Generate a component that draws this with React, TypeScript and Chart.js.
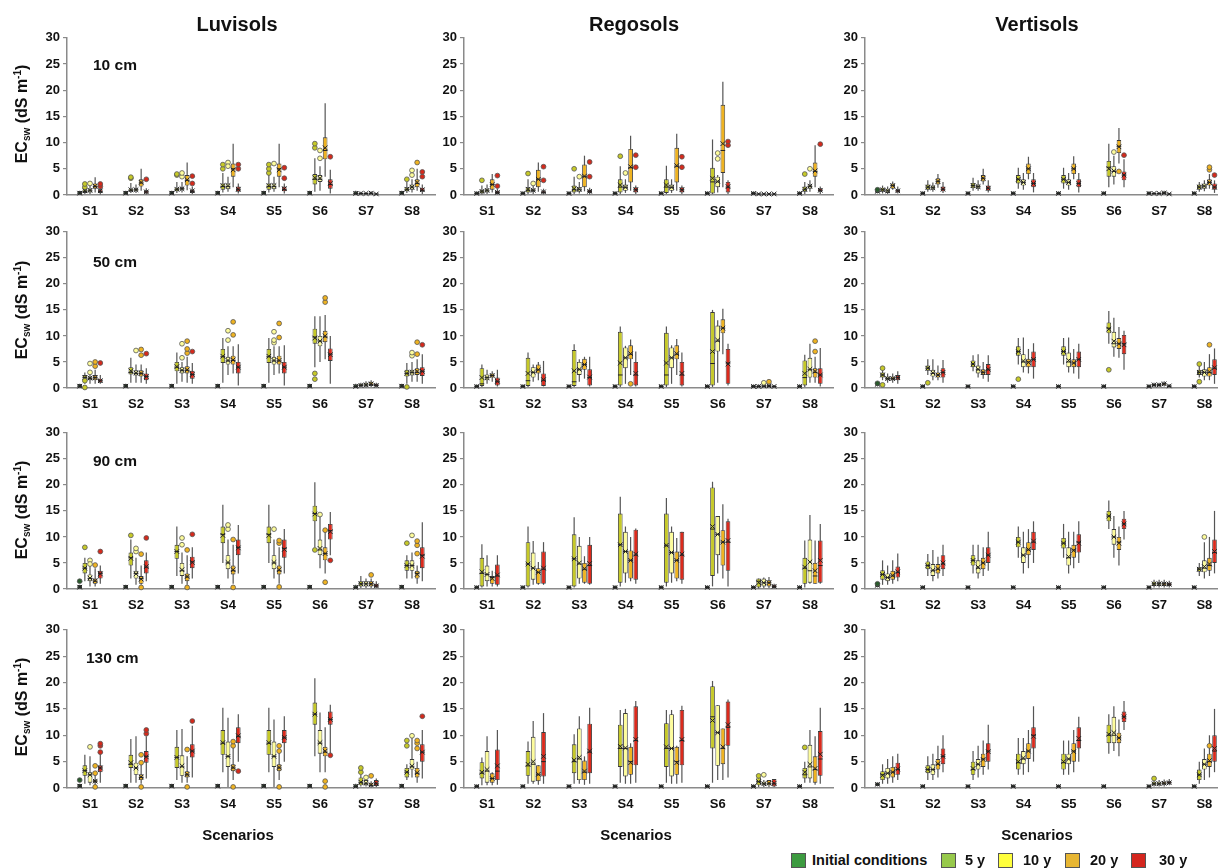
import React, { useEffect, useRef } from "react";
import { Chart, registerables } from "chart.js";
Chart.register(...registerables);

// ---------- labels ----------
const SCENARIOS = ["S1", "S2", "S3", "S4", "S5", "S6", "S7", "S8"];
const SERIES_NAMES = ["Initial conditions", "5 y", "10 y", "20 y", "30 y"];
const SOILS = ["Luvisols", "Regosols", "Vertisols"];
const DEPTHS = ["10 cm", "50 cm", "90 cm", "130 cm"];
const Y_TICKS = [0, 5, 10, 15, 20, 25, 30];

// box = [min, q1, median, q3, max, mean]; outlier = [seriesIndex, scenarioIndex, value]
// ---------- initial conditions (per soil) ----------
const LUV_INIT = [[0.05,0.05,0.35,0.75,0.8,0.35],[0.05,0.05,0.35,0.75,0.8,0.35],[0.05,0.05,0.35,0.75,0.8,0.35],[0.05,0.05,0.35,0.75,0.8,0.35],[0.05,0.05,0.35,0.75,0.8,0.35],[0.05,0.05,0.35,0.75,0.8,0.35],[0.05,0.05,0.3,0.7,0.8,0.3],[0.05,0.05,0.35,0.75,0.8,0.35]];
const REG_INIT = [[0.05,0.05,0.3,0.6,0.7,0.3],[0.05,0.05,0.3,0.6,0.7,0.3],[0.05,0.05,0.3,0.6,0.7,0.3],[0.05,0.05,0.3,0.6,0.7,0.3],[0.05,0.05,0.3,0.6,0.7,0.3],[0.05,0.05,0.3,0.6,0.7,0.3],[0.05,0.05,0.3,0.6,0.7,0.3],[0.05,0.05,0.3,0.6,0.7,0.3]];
const VER_INIT = [[0.3,0.4,0.7,1.0,1.1,0.7],[0.05,0.05,0.3,0.6,0.7,0.3],[0.05,0.05,0.3,0.6,0.7,0.3],[0.05,0.05,0.3,0.6,0.7,0.3],[0.05,0.05,0.3,0.6,0.7,0.3],[0.05,0.05,0.3,0.6,0.7,0.3],[0.05,0.05,0.3,0.6,0.7,0.3],[0.05,0.05,0.3,0.6,0.7,0.3]];

// ---------- Luvisols 10 cm ----------
const LUV10_Y5 = [[0.2,0.4,0.7,1.1,1.8,0.8],[0.4,0.6,0.9,1.2,2.3,1.0],[0.4,0.7,1.0,1.4,2.5,1.1],[0.5,1.0,1.6,2.2,4.2,1.8],[0.5,1.0,1.6,2.2,4.2,1.8],[0.6,2.0,3.0,4.0,7.0,3.3],[0.1,0.2,0.3,0.4,0.6,0.3],[0.4,0.7,1.0,1.5,2.5,1.1]];
const LUV10_Y10 = [[0.2,0.5,0.8,1.2,2.0,0.9],[0.4,0.7,1.0,1.3,2.0,1.0],[0.5,0.9,1.2,1.5,2.5,1.2],[0.6,1.1,1.6,2.2,3.5,1.8],[0.6,1.1,1.6,2.2,3.5,1.8],[0.8,2.5,3.0,3.8,5.5,3.2],[0.1,0.2,0.3,0.4,0.5,0.3],[0.5,1.0,1.5,2.0,3.0,1.5]];
const LUV10_Y20 = [[0.5,1.2,1.6,2.2,3.4,1.7],[0.8,1.6,2.3,3.0,5.0,2.4],[0.9,1.8,2.8,3.8,6.2,2.9],[1.5,3.5,5.0,6.0,9.8,4.8],[1.5,3.5,5.0,6.0,9.8,4.8],[3.5,6.8,8.5,11.0,17.5,9.0],[0.1,0.2,0.35,0.5,0.7,0.35],[0.8,1.5,2.2,3.0,5.0,2.4]];
const LUV10_Y30 = [[0.1,0.4,0.7,1.1,1.5,0.8],[0.1,0.3,0.6,0.9,1.3,0.6],[0.2,0.4,0.7,1.0,1.6,0.8],[0.3,0.6,1.0,1.6,2.2,1.1],[0.3,0.7,1.0,1.6,2.2,1.2],[0.3,1.2,2.0,3.0,4.8,2.2],[0.1,0.15,0.2,0.3,0.4,0.2],[0.2,0.6,0.9,1.4,2.0,1.0]];
const LUV10_OUT = [[1,0,1.5],[1,0,2.1],[2,0,2.2],[4,0,1.6],[4,0,2.1],[1,1,3.2],[1,1,3.4],[4,1,3.0],[1,2,3.8],[1,2,4.0],[2,2,3.5],[2,2,4.2],[4,2,2.2],[4,2,3.6],[1,3,5.0],[1,3,5.8],[2,3,6.2],[2,3,5.5],[4,3,5.0],[4,3,5.8],[1,4,4.2],[1,4,5.0],[1,4,5.8],[2,4,6.0],[4,4,3.2],[4,4,5.2],[1,5,9.0],[1,5,9.8],[2,5,8.5],[2,5,7.0],[4,5,7.3],[1,7,3.0],[2,7,3.8],[2,7,4.7],[3,7,6.2],[4,7,3.5],[4,7,4.4]];

// ---------- Regosols 10 cm ----------
const REG10_Y5 = [[0.1,0.3,0.6,1.0,1.8,0.7],[0.2,0.5,0.9,1.5,3.0,1.1],[0.2,0.5,1.0,1.8,3.5,1.2],[0.2,0.5,1.5,3.0,5.5,1.9],[0.2,0.4,1.5,3.0,5.6,1.9],[0.2,0.3,2.5,5.2,10.6,3.2],[0.1,0.15,0.2,0.3,0.4,0.2],[0.2,0.6,1.0,1.6,2.5,1.1]];
const REG10_Y10 = [[0.2,0.5,0.8,1.2,2.0,0.9],[0.2,0.6,0.9,1.2,2.0,0.9],[0.3,0.6,1.0,1.5,2.5,1.1],[0.4,0.8,1.4,2.0,3.0,1.5],[0.4,0.8,1.4,2.0,3.0,1.5],[0.5,1.5,2.5,3.5,3.8,2.6],[0.1,0.15,0.2,0.3,0.4,0.2],[0.6,1.2,1.6,2.0,2.8,1.7]];
const REG10_Y20 = [[0.5,1.0,2.0,3.0,4.0,2.0],[0.6,1.5,3.0,4.8,6.2,3.0],[0.7,1.5,3.5,5.8,7.5,3.6],[0.8,2.4,5.2,8.8,11.3,5.4],[0.8,2.4,5.5,9.0,11.7,5.6],[1.5,4.2,8.5,17.2,21.6,9.8],[0.1,0.15,0.2,0.3,0.4,0.2],[1.5,3.5,4.5,6.2,9.5,4.6]];
const REG10_Y30 = [[0.1,0.2,0.5,0.8,1.2,0.5],[0.1,0.3,0.5,0.8,1.2,0.6],[0.1,0.4,0.7,1.0,1.4,0.7],[0.2,0.5,1.0,1.5,1.8,1.0],[0.2,0.5,1.0,1.5,1.8,1.0],[0.2,0.5,1.5,2.5,2.8,1.6],[0.1,0.15,0.2,0.3,0.4,0.2],[0.2,0.6,0.9,1.3,1.6,0.9]];
const REG10_OUT = [[1,0,2.8],[4,0,1.7],[4,0,3.7],[1,1,4.1],[2,1,2.2],[4,1,2.8],[4,1,5.4],[1,2,5.0],[2,2,3.5],[4,2,3.5],[4,2,6.3],[1,3,7.4],[2,3,4.2],[4,3,5.3],[4,3,7.6],[4,4,5.3],[4,4,7.3],[2,5,6.9],[2,5,8.0],[4,5,9.5],[4,5,10.2],[1,7,4.0],[2,7,5.0],[4,7,9.7]];

// ---------- Vertisols 10 cm ----------
const VER10_Y5 = [[0.3,0.6,1.0,1.4,1.8,1.0],[0.6,1.0,1.5,2.0,2.8,1.5],[0.8,1.3,1.8,2.3,3.3,1.8],[1.2,2.2,3.0,3.8,5.2,3.0],[1.2,2.2,3.0,3.8,5.2,3.0],[1.5,3.5,5.3,6.5,9.8,5.0],[0.1,0.2,0.3,0.4,0.5,0.3],[0.6,1.0,1.5,2.0,2.5,1.5]];
const VER10_Y10 = [[0.2,0.4,0.8,1.2,1.6,0.8],[0.6,1.0,1.4,1.8,2.4,1.4],[0.8,1.2,1.6,2.0,2.8,1.6],[1.0,1.8,2.4,3.0,4.2,2.4],[1.0,1.8,2.4,3.0,4.2,2.4],[2.0,3.5,4.5,5.5,7.5,4.6],[0.1,0.2,0.3,0.4,0.5,0.3],[0.7,1.2,1.7,2.2,2.8,1.7]];
const VER10_Y20 = [[1.0,1.2,1.8,2.2,2.6,1.8],[1.4,2.0,2.6,3.2,4.0,2.6],[2.0,2.6,3.2,3.8,5.0,3.2],[3.0,4.0,5.0,6.0,7.3,5.0],[3.0,4.0,5.0,6.0,7.4,5.0],[6.0,8.0,9.3,10.5,12.8,9.2],[0.1,0.2,0.4,0.6,0.8,0.4],[1.2,1.8,2.4,3.0,4.0,2.4]];
const VER10_Y30 = [[0.3,0.5,0.8,1.1,1.6,0.8],[0.4,0.7,1.1,1.6,2.5,1.1],[0.5,0.8,1.3,1.8,2.8,1.3],[0.5,1.5,2.2,3.0,4.2,2.2],[0.5,1.5,2.2,3.0,4.2,2.2],[1.5,2.8,3.8,4.5,6.8,3.8],[0.1,0.15,0.2,0.3,0.4,0.2],[0.4,1.0,1.5,2.2,2.8,1.5]];
const VER10_OUT = [[0,0,1.0],[2,5,8.2],[3,5,4.5],[4,5,7.6],[3,7,4.8],[3,7,5.3],[4,7,3.8]];

// ---------- Luvisols 50 cm ----------
const LUV50_Y5 = [[0.8,1.5,2.0,2.5,3.0,2.0],[1.0,2.6,3.0,4.0,5.8,3.3],[0.8,3.2,4.0,5.0,6.8,4.1],[1.0,4.8,6.0,7.5,9.6,6.1],[1.0,4.8,6.0,7.5,9.6,6.1],[4.0,8.5,9.8,11.4,13.8,9.6],[0.1,0.3,0.5,0.8,1.0,0.5],[0.8,2.2,2.8,3.5,4.8,2.8]];
const LUV50_Y10 = [[0.8,1.5,1.8,2.2,3.0,1.9],[1.0,2.4,2.8,3.4,4.5,2.9],[1.2,2.8,3.4,4.0,5.0,3.4],[2.5,4.5,5.2,6.0,8.0,5.3],[2.5,4.5,5.2,6.0,8.0,5.3],[5.0,8.0,9.0,10.0,13.8,9.0],[0.1,0.3,0.6,1.0,1.3,0.6],[1.2,2.4,3.0,3.5,5.0,3.0]];
const LUV50_Y20 = [[0.8,1.5,2.0,2.5,3.5,2.0],[1.0,2.2,2.8,3.4,4.5,2.8],[1.0,2.8,3.4,4.2,6.0,3.5],[2.8,4.5,5.3,6.2,8.0,5.4],[2.8,4.5,5.2,6.2,8.0,5.3],[5.5,8.8,9.8,11.0,14.0,10.0],[0.2,0.4,0.7,1.2,1.5,0.8],[1.2,2.5,3.0,3.8,5.5,3.2]];
const LUV50_Y30 = [[0.8,1.0,1.4,1.8,2.5,1.4],[0.8,1.5,2.2,2.8,3.8,2.2],[0.8,1.8,2.6,3.3,4.8,2.6],[0.5,2.8,4.0,5.0,8.4,4.0],[0.5,2.8,4.0,5.0,8.2,4.0],[0.8,5.2,6.5,7.6,10.0,6.4],[0.1,0.3,0.5,0.8,1.0,0.5],[0.8,2.3,3.2,4.0,6.5,3.2]];
const LUV50_OUT = [[1,0,1.4],[1,0,0.1],[2,0,3.0],[2,0,4.7],[3,0,4.2],[3,0,5.0],[4,0,4.8],[2,1,7.2],[3,1,6.3],[3,1,7.4],[4,1,6.6],[2,2,5.8],[2,2,8.5],[3,2,6.7],[3,2,7.5],[3,2,9.0],[4,2,7.0],[2,3,9.2],[2,3,11.0],[3,3,10.2],[3,3,12.7],[2,4,8.7],[2,4,9.2],[2,4,10.8],[3,4,9.7],[3,4,12.4],[1,5,1.7],[1,5,2.8],[3,5,16.5],[3,5,17.3],[1,7,0.2],[2,7,6.2],[2,7,6.8],[3,7,6.5],[3,7,8.8],[4,7,8.3]];

// ---------- Regosols 50 cm ----------
const REG50_Y5 = [[0.2,0.4,0.8,3.8,4.5,2.0],[0.2,0.4,1.4,5.8,6.8,2.8],[0.2,0.4,1.2,7.3,8.4,3.3],[0.2,0.5,2.5,10.8,11.8,4.8],[0.2,0.5,2.5,10.6,11.8,4.8],[0.2,0.5,4.7,14.6,15.0,7.0],[0.1,0.2,0.3,0.5,0.7,0.3],[0.2,0.5,2.0,5.3,6.4,2.8]];
const REG50_Y10 = [[0.8,1.5,2.0,2.6,3.5,2.0],[1.2,2.0,3.0,4.0,4.5,3.0],[1.2,2.5,3.5,5.0,5.5,3.6],[0.8,3.8,5.8,7.8,8.1,5.8],[0.8,3.8,5.8,7.8,8.2,5.8],[1.0,7.0,9.0,12.0,13.0,9.2],[0.1,0.2,0.4,0.6,0.8,0.4],[1.0,2.0,3.5,5.8,8.5,3.6]];
const REG50_Y20 = [[1.2,2.0,2.4,2.8,3.2,2.4],[1.5,2.8,3.5,4.5,5.0,3.5],[1.8,3.5,4.5,5.6,6.0,4.5],[2.5,5.5,6.5,8.2,9.3,6.6],[2.5,5.5,6.5,8.2,9.4,6.6],[6.5,10.5,11.5,13.2,15.2,11.5],[0.1,0.2,0.4,0.6,0.8,0.4],[1.0,2.0,3.0,3.8,6.0,3.2]];
const REG50_Y30 = [[0.3,0.5,1.2,2.0,3.5,1.3],[0.3,0.4,1.5,2.8,5.2,1.6],[0.3,0.5,2.0,3.6,6.0,2.1],[0.3,0.5,2.5,5.0,7.0,2.8],[0.3,0.5,2.5,5.0,6.8,2.8],[0.5,0.8,4.8,7.5,8.5,4.6],[0.1,0.2,0.3,0.5,0.6,0.3],[0.3,0.8,2.5,3.8,7.7,2.5]];
const REG50_OUT = [[3,3,0.8],[2,6,1.0],[3,6,1.2],[3,7,7.0],[3,7,9.0]];

// ---------- Vertisols 50 cm ----------
const VER50_Y5 = [[1.5,2.0,2.5,3.0,3.5,2.5],[2.5,3.3,3.8,4.3,5.5,3.8],[3.2,4.0,4.6,5.3,6.3,4.6],[4.5,6.2,7.0,8.0,9.6,7.0],[4.5,6.2,7.0,8.0,9.6,7.0],[8.5,10.5,11.5,12.6,14.8,11.3],[0.2,0.4,0.6,0.8,1.0,0.6],[2.0,2.5,3.0,3.5,4.5,3.0]];
const VER50_Y10 = [[1.0,1.5,1.8,2.2,2.8,1.8],[1.5,2.2,2.8,3.5,5.5,2.9],[2.0,2.8,3.5,4.3,6.5,3.6],[3.0,4.0,5.0,6.5,9.7,5.2],[3.0,4.0,5.0,6.8,9.7,5.3],[6.0,7.8,8.5,10.8,13.5,9.0],[0.2,0.4,0.6,0.8,1.0,0.6],[1.5,2.2,3.0,3.6,5.0,3.0]];
const VER50_Y20 = [[1.0,1.5,1.8,2.2,2.8,1.8],[1.5,2.0,2.5,3.0,4.3,2.5],[1.8,2.5,3.0,3.6,5.0,3.0],[2.8,4.0,5.0,5.6,7.5,4.9],[2.8,4.0,4.8,5.5,7.5,4.8],[5.8,7.5,8.5,9.6,11.7,8.5],[0.3,0.5,0.8,1.0,1.3,0.8],[1.5,2.2,3.0,4.0,6.5,3.1]];
const VER50_Y30 = [[0.8,1.5,2.0,2.5,3.2,2.0],[1.0,2.0,3.0,3.8,5.4,3.0],[1.2,2.5,3.5,4.6,6.3,3.6],[1.8,4.0,5.5,7.0,8.6,5.5],[1.8,4.0,5.5,7.0,8.5,5.5],[3.5,6.5,8.5,10.2,11.0,8.3],[0.1,0.2,0.4,0.5,0.7,0.4],[0.8,2.5,3.8,5.5,7.6,3.9]];
const VER50_OUT = [[1,0,3.8],[1,0,0.6],[0,0,0.9],[1,1,1.0],[1,3,1.7],[1,5,3.5],[1,7,4.6],[1,7,1.2],[3,7,8.3]];

// ---------- Luvisols 90 cm ----------
const LUV90_Y5 = [[1.5,3.0,4.0,5.0,6.0,4.0],[2.0,4.5,6.0,7.0,9.5,5.9],[2.5,5.8,7.2,8.5,12.0,7.2],[5.0,8.8,10.5,12.0,16.2,10.3],[5.0,8.8,10.5,12.0,16.2,10.3],[8.0,13.0,14.5,16.0,20.5,14.4],[0.2,0.5,1.0,1.5,2.5,1.0],[2.0,3.5,4.5,5.5,6.5,4.5]];
const LUV90_Y10 = [[0.5,1.5,2.0,2.8,4.5,2.1],[0.8,2.0,3.0,3.5,6.0,2.9],[1.0,2.5,3.5,5.0,7.0,3.7],[2.0,3.8,5.0,6.5,9.5,5.1],[2.0,3.8,5.0,6.5,9.5,5.1],[4.0,6.5,7.5,9.5,14.0,7.8],[0.2,0.5,1.0,1.5,2.0,1.0],[2.0,3.5,4.5,5.5,7.0,4.5]];
const LUV90_Y20 = [[0.5,1.0,1.5,2.0,4.0,1.6],[0.8,1.0,2.0,2.5,4.5,1.9],[0.8,1.5,2.3,3.0,6.5,2.4],[1.0,2.8,3.5,4.5,8.5,3.7],[1.0,2.8,3.5,4.5,8.0,3.7],[3.0,5.5,6.8,8.0,11.5,6.8],[0.2,0.5,1.0,1.5,2.0,1.0],[1.0,2.0,3.0,3.5,4.5,2.8]];
const LUV90_Y30 = [[1.0,2.0,3.0,3.5,4.5,2.9],[1.5,3.0,4.2,5.5,7.0,4.3],[2.0,4.0,5.2,6.2,8.0,5.1],[3.0,6.5,8.0,9.5,12.3,7.9],[3.0,6.0,7.8,9.5,11.5,7.6],[6.5,9.5,11.2,12.5,14.8,11.0],[0.2,0.3,0.6,1.0,1.5,0.6],[1.5,4.0,6.5,8.0,12.8,6.3]];
const LUV90_OUT = [[0,0,1.5],[1,0,8.0],[2,0,5.5],[2,0,4.8],[3,0,4.6],[4,0,7.2],[1,1,10.3],[2,1,7.2],[2,1,7.8],[3,1,0.3],[3,1,6.7],[4,1,9.8],[2,2,8.5],[2,2,9.8],[3,2,0.3],[3,2,7.5],[4,2,10.5],[2,3,11.5],[2,3,12.3],[3,3,0.3],[3,3,9.5],[2,4,11.5],[3,4,0.4],[3,4,8.8],[3,4,9.3],[1,5,7.5],[2,5,14.3],[3,5,1.3],[3,5,11.3],[4,5,5.5],[3,6,2.7],[1,7,8.8],[2,7,10.3],[3,7,6.8],[3,7,8.4],[3,7,9.2]];

// ---------- Regosols 90 cm ----------
const REG90_Y5 = [[0.3,0.5,3.0,6.0,8.6,3.3],[0.3,0.5,4.8,9.0,12.0,4.8],[0.3,0.5,5.8,10.5,13.8,5.8],[0.5,1.2,8.5,14.5,17.7,8.5],[0.5,1.2,8.3,14.5,17.5,8.4],[0.5,2.5,11.5,19.5,20.6,12.0],[0.1,0.3,1.5,2.0,2.0,1.2],[0.3,1.0,4.0,6.0,9.3,4.2]];
const REG90_Y10 = [[0.5,1.5,2.8,4.5,6.5,2.8],[0.8,1.8,4.0,7.0,9.2,4.0],[1.0,2.0,4.8,8.3,10.0,5.0],[1.2,3.0,7.2,11.0,12.0,7.2],[1.2,3.0,7.0,11.0,12.0,7.0],[3.0,6.5,10.5,14.0,14.0,10.5],[0.2,0.5,1.2,2.0,2.2,1.2],[1.0,1.2,3.5,9.5,14.2,5.2]];
const REG90_Y20 = [[0.5,1.0,2.2,2.5,3.5,2.0],[0.8,1.0,3.2,4.0,5.2,3.2],[1.0,1.2,3.8,5.0,6.3,3.9],[1.5,2.0,5.5,7.4,10.0,5.5],[1.5,2.0,5.5,7.2,9.8,5.5],[2.0,4.5,9.0,11.3,16.3,9.0],[0.2,0.5,1.2,1.7,2.3,1.2],[1.0,1.0,2.5,5.0,9.3,3.5]];
const REG90_Y30 = [[0.5,0.8,2.5,4.7,6.5,2.7],[0.8,1.0,3.8,7.2,9.0,4.0],[0.8,1.0,4.5,8.5,10.0,4.9],[1.0,1.8,6.5,11.4,11.6,6.7],[1.0,1.8,6.5,11.0,11.0,6.7],[0.5,3.5,9.0,13.0,13.5,9.3],[0.1,0.2,0.5,0.8,1.0,0.5],[1.0,1.2,4.5,9.3,12.5,5.5]];
const REG90_OUT: number[][] = [];

// ---------- Vertisols 90 cm ----------
const VER90_Y5 = [[0.8,1.8,2.8,3.6,5.5,2.8],[2.5,3.8,4.5,5.3,6.7,4.5],[3.0,4.5,5.5,6.5,8.5,5.5],[6.0,8.0,9.0,10.0,12.0,9.0],[6.0,7.8,8.8,9.8,12.5,8.8],[11.5,13.0,14.0,15.0,17.0,14.0],[0.3,0.6,1.0,1.4,1.8,1.0],[2.5,3.3,3.8,4.2,5.0,3.8]];
const VER90_Y10 = [[0.8,1.5,2.2,3.0,4.5,2.2],[1.5,2.5,3.5,4.8,7.5,3.6],[2.0,3.0,4.0,5.5,8.5,4.2],[3.0,5.0,6.5,8.0,11.0,6.5],[3.0,4.5,6.0,8.0,11.0,6.2],[6.0,8.5,10.0,11.5,14.0,10.0],[0.3,0.6,1.0,1.3,1.8,1.0],[2.0,3.2,4.0,5.5,9.0,4.3]];
const VER90_Y20 = [[1.0,1.8,2.5,3.5,5.5,2.6],[2.0,3.0,3.8,4.8,6.2,3.9],[2.5,3.8,5.0,6.0,8.0,5.0],[4.0,6.5,7.5,9.0,11.5,7.6],[4.0,6.0,7.5,8.5,11.0,7.4],[4.5,7.5,9.0,10.0,12.0,8.8],[0.3,0.6,1.0,1.3,1.8,1.0],[2.5,3.5,4.5,6.0,10.0,4.8]];
const VER90_Y30 = [[1.5,2.2,3.2,4.3,6.8,3.3],[2.5,3.8,4.8,6.5,8.5,5.0],[3.5,5.0,6.5,8.0,11.0,6.5],[5.0,7.5,9.0,11.0,13.0,9.2],[5.0,7.0,9.0,10.5,13.0,8.8],[9.5,11.5,12.5,13.5,15.0,12.5],[0.3,0.6,0.9,1.2,1.6,0.9],[3.0,5.0,7.0,9.5,15.0,7.2]];
const VER90_OUT = [[0,0,1.0],[2,7,10.0]];

// ---------- Luvisols 130 cm ----------
const LUV130_Y5 = [[0.8,2.3,3.3,4.3,6.3,3.3],[1.0,3.8,4.5,6.3,9.3,4.8],[1.5,3.8,5.8,7.8,11.0,5.8],[3.0,6.3,8.5,11.0,15.2,8.6],[3.0,6.3,8.5,11.0,15.2,8.6],[6.0,12.0,14.0,16.2,20.8,14.0],[0.3,0.5,1.0,2.0,2.5,1.1],[1.5,2.0,3.0,3.8,4.5,3.0]];
const LUV130_Y10 = [[0.5,1.0,2.5,3.0,6.0,2.5],[1.0,2.5,3.8,4.8,9.8,3.8],[1.0,2.3,4.0,6.2,11.2,4.2],[0.2,4.0,6.0,8.8,13.3,6.0],[0.2,4.0,6.0,8.8,13.0,6.0],[3.0,6.5,8.5,11.0,14.3,8.6],[0.3,0.5,0.8,1.5,1.8,0.9],[2.0,3.5,4.0,5.5,9.8,4.2]];
const LUV130_Y20 = [[0.5,1.0,1.3,1.6,2.5,1.3],[0.8,1.5,2.0,2.6,5.0,2.1],[1.0,2.0,2.5,3.2,6.0,2.6],[1.5,3.2,3.8,4.5,8.0,3.9],[1.5,3.2,3.8,4.5,7.5,3.9],[3.0,6.0,6.8,7.8,11.5,7.0],[0.1,0.3,0.5,1.0,1.3,0.6],[1.0,2.0,2.8,3.8,5.0,2.9]];
const LUV130_Y30 = [[1.0,3.0,3.8,4.3,7.0,3.8],[1.8,4.8,6.0,7.0,9.8,5.9],[2.0,5.8,7.0,8.3,11.8,7.0],[5.0,8.5,9.8,11.5,14.0,9.9],[5.0,8.5,9.5,11.0,13.6,9.6],[6.5,12.0,13.0,14.5,15.8,13.0],[0.2,0.4,0.8,1.5,1.8,0.9],[1.8,5.0,6.8,8.3,11.0,6.8]];
const LUV130_OUT = [[0,0,1.5],[2,0,7.8],[3,0,0.2],[3,0,2.8],[3,0,4.2],[4,0,6.8],[4,0,8.0],[4,0,8.4],[3,1,0.2],[3,1,4.8],[3,1,6.3],[4,1,10.3],[4,1,11.0],[3,2,0.2],[3,2,7.3],[4,2,12.7],[3,3,0.2],[3,3,8.0],[3,3,8.8],[4,3,3.2],[3,4,0.2],[3,4,7.0],[3,4,8.0],[3,5,0.2],[3,5,1.3],[4,5,6.2],[1,6,3.0],[1,6,3.8],[2,6,2.0],[3,6,2.3],[1,7,8.0],[1,7,9.0],[2,7,9.9],[3,7,7.5],[3,7,8.5],[3,7,9.0],[4,7,13.6]];

// ---------- Regosols 130 cm ----------
const REG130_Y5 = [[0.5,1.8,2.8,4.9,5.8,3.0],[0.8,2.3,4.2,7.0,8.8,4.5],[0.8,2.8,5.0,8.3,10.2,5.3],[1.0,4.0,7.5,12.0,14.8,7.9],[1.0,4.0,7.5,12.3,14.8,7.8],[1.0,7.5,13.5,19.3,20.3,12.8],[0.2,0.5,1.2,2.0,2.2,1.2],[1.0,1.8,2.5,3.8,5.0,3.0]];
const REG130_Y10 = [[0.5,1.0,3.2,7.0,9.8,3.5],[0.8,1.2,4.5,9.7,12.7,5.0],[0.8,1.5,5.5,11.3,13.6,5.8],[0.8,2.2,7.5,14.2,15.0,7.6],[0.8,2.2,7.5,14.0,14.8,7.5],[1.5,4.2,10.5,15.7,15.7,10.5],[0.2,0.5,0.8,1.2,1.5,0.8],[1.0,1.8,4.0,8.2,11.0,4.5]];
const REG130_Y20 = [[0.5,1.0,1.8,2.8,3.0,1.8],[0.6,1.3,2.5,4.3,4.3,2.6],[0.6,1.5,3.0,5.2,6.0,3.2],[0.8,2.5,5.0,7.8,8.5,4.8],[0.8,2.5,5.0,7.8,8.0,4.8],[1.5,4.5,7.5,11.3,11.3,7.8],[0.2,0.5,0.8,1.5,1.5,0.9],[0.6,1.0,3.5,6.0,9.8,3.7]];
const REG130_Y30 = [[0.6,1.5,3.2,7.3,11.0,4.2],[0.8,2.2,5.0,10.6,14.2,6.0],[0.8,2.8,6.8,12.2,15.2,7.0],[1.0,4.3,9.0,15.5,16.5,9.2],[1.0,4.3,9.0,14.8,15.6,9.2],[2.0,8.0,11.5,16.4,16.8,12.0],[0.2,0.3,0.8,1.7,1.7,0.9],[0.8,2.3,5.5,10.8,15.2,6.4]];
const REG130_OUT = [[1,6,2.3],[2,6,2.5],[1,7,7.7]];

// ---------- Vertisols 130 cm ----------
const VER130_Y5 = [[0.8,1.5,2.5,3.2,4.5,2.4],[1.5,2.8,3.5,4.3,6.0,3.5],[1.5,2.5,3.5,5.0,7.0,3.7],[2.5,3.5,4.8,6.5,9.5,5.0],[2.5,3.5,4.8,6.5,9.0,5.0],[6.5,8.5,10.0,12.0,14.0,10.2],[0.3,0.5,0.8,1.2,1.5,0.8],[0.8,1.5,2.5,3.5,5.0,2.5]];
const VER130_Y10 = [[0.8,1.8,2.8,3.8,5.5,2.8],[1.5,2.5,3.5,4.5,6.5,3.5],[2.0,3.5,4.5,5.5,8.0,4.5],[2.5,4.5,5.5,7.0,9.5,5.7],[2.5,4.5,5.5,6.5,9.0,5.5],[7.0,8.5,10.0,13.5,15.5,10.5],[0.3,0.5,0.8,1.2,1.5,0.8],[1.5,3.5,4.5,5.5,7.5,4.5]];
const VER130_Y20 = [[1.0,2.0,3.0,4.0,6.0,3.0],[2.0,3.5,4.5,5.5,8.0,4.6],[2.5,4.0,5.5,6.5,9.0,5.4],[3.0,5.5,7.0,8.5,11.0,7.0],[3.0,5.0,7.0,8.5,11.0,6.9],[6.0,8.5,9.5,10.5,13.0,9.5],[0.3,0.6,0.9,1.2,1.6,0.9],[2.0,4.0,5.0,6.5,10.0,5.2]];
const VER130_Y30 = [[1.5,2.5,3.5,4.8,6.5,3.6],[3.0,4.5,6.0,7.5,10.0,6.0],[3.5,5.0,7.0,8.5,12.0,6.9],[5.0,7.5,10.0,11.5,15.5,9.8],[5.0,7.5,9.0,11.5,13.5,9.4],[11.0,12.5,13.5,14.5,16.5,13.5],[0.5,0.8,1.0,1.3,1.7,1.0],[3.0,5.0,7.0,10.0,15.0,7.5]];
const VER130_OUT = [[1,6,1.8],[3,7,8.0]];

// ---------- styles ----------
const BOX_FILL = ["#2a5a2c", "#c6c928", "#fdfc9b", "#efb321", "#dc2a1c"];
const DOT_FILL = ["#2a5a2c", "#c6c928", "#fdfc9b", "#efb321", "#d42a1c"];
const LEGEND_FILL = ["#3d9b40", "#97c94b", "#ffff3c", "#e7b633", "#d4261e"];
const FONT = "'Liberation Sans', Arial, Helvetica, sans-serif";

const COLS = [{ L: 67, R: 435 }, { L: 464, R: 833 }, { L: 865, R: 1227 }];
const ROWS = [{ T: 37, B: 195 }, { T: 231, B: 388 }, { T: 432, B: 589 }, { T: 629, B: 788 }];
const YW = 45, PT = 10, PR = 4, XH = 30;

type PanelDef = { row: number; col: number; series: number[][][]; out: number[][] };

const PANELS: PanelDef[] = [
  { row: 0, col: 0, series: [LUV_INIT, LUV10_Y5, LUV10_Y10, LUV10_Y20, LUV10_Y30], out: LUV10_OUT },
  { row: 0, col: 1, series: [REG_INIT, REG10_Y5, REG10_Y10, REG10_Y20, REG10_Y30], out: REG10_OUT },
  { row: 0, col: 2, series: [VER_INIT, VER10_Y5, VER10_Y10, VER10_Y20, VER10_Y30], out: VER10_OUT },
  { row: 1, col: 0, series: [LUV_INIT, LUV50_Y5, LUV50_Y10, LUV50_Y20, LUV50_Y30], out: LUV50_OUT },
  { row: 1, col: 1, series: [REG_INIT, REG50_Y5, REG50_Y10, REG50_Y20, REG50_Y30], out: REG50_OUT },
  { row: 1, col: 2, series: [VER_INIT, VER50_Y5, VER50_Y10, VER50_Y20, VER50_Y30], out: VER50_OUT },
  { row: 2, col: 0, series: [LUV_INIT, LUV90_Y5, LUV90_Y10, LUV90_Y20, LUV90_Y30], out: LUV90_OUT },
  { row: 2, col: 1, series: [REG_INIT, REG90_Y5, REG90_Y10, REG90_Y20, REG90_Y30], out: REG90_OUT },
  { row: 2, col: 2, series: [VER_INIT, VER90_Y5, VER90_Y10, VER90_Y20, VER90_Y30], out: VER90_OUT },
  { row: 3, col: 0, series: [LUV_INIT, LUV130_Y5, LUV130_Y10, LUV130_Y20, LUV130_Y30], out: LUV130_OUT },
  { row: 3, col: 1, series: [REG_INIT, REG130_Y5, REG130_Y10, REG130_Y20, REG130_Y30], out: REG130_OUT },
  { row: 3, col: 2, series: [VER_INIT, VER130_Y5, VER130_Y10, VER130_Y20, VER130_Y30], out: VER130_OUT },
];

function makeBoxPlugin(series: number[][][], outliers: number[][]) {
  return {
    id: "boxExtras",
    beforeDatasetsDraw(chart: any) {
      const ctx = chart.ctx;
      const ys = chart.scales.y;
      ctx.save();
      ctx.strokeStyle = "#555";
      ctx.lineWidth = 1.2;
      series.forEach((boxes, si) => {
        const meta = chart.getDatasetMeta(si);
        meta.data.forEach((el: any, i: number) => {
          const b = boxes[i];
          const x = el.x;
          ctx.beginPath();
          ctx.moveTo(x, ys.getPixelForValue(b[0]));
          ctx.lineTo(x, ys.getPixelForValue(b[4]));
          ctx.stroke();
        });
      });
      ctx.restore();
    },
    afterDatasetsDraw(chart: any) {
      const ctx = chart.ctx;
      const ys = chart.scales.y;
      ctx.save();
      series.forEach((boxes, si) => {
        const meta = chart.getDatasetMeta(si);
        meta.data.forEach((el: any, i: number) => {
          const b = boxes[i];
          const x = el.x;
          const w = el.width;
          const my = ys.getPixelForValue(b[2]);
          ctx.strokeStyle = "#222";
          ctx.lineWidth = 1;
          ctx.beginPath();
          ctx.moveTo(x - w / 2, my);
          ctx.lineTo(x + w / 2, my);
          ctx.stroke();
          const ay = ys.getPixelForValue(b[5]);
          const s = 2.3;
          ctx.beginPath();
          ctx.moveTo(x - s, ay - s);
          ctx.lineTo(x + s, ay + s);
          ctx.moveTo(x - s, ay + s);
          ctx.lineTo(x + s, ay - s);
          ctx.stroke();
        });
      });
      outliers.forEach((o) => {
        const meta = chart.getDatasetMeta(o[0]);
        const el: any = meta.data[o[1]];
        if (!el) return;
        ctx.beginPath();
        ctx.arc(el.x, ys.getPixelForValue(o[2]), 2.4, 0, Math.PI * 2);
        ctx.fillStyle = DOT_FILL[o[0]];
        ctx.fill();
        ctx.strokeStyle = "#555";
        ctx.lineWidth = 0.8;
        ctx.stroke();
      });
      ctx.restore();
    },
  };
}

function Panel({ def }: { def: PanelDef }) {
  const ref = useRef<HTMLCanvasElement | null>(null);
  const col = COLS[def.col];
  const row = ROWS[def.row];
  const width = col.R - col.L + YW + PR;
  const height = row.B - row.T + PT + XH;

  useEffect(() => {
    if (!ref.current) return;
    const tickFont = { family: FONT, size: 13, weight: "bold" as const };
    const chart = new Chart(ref.current, {
      type: "bar",
      data: {
        labels: SCENARIOS,
        datasets: def.series.map((boxes, si) => ({
          label: SERIES_NAMES[si],
          data: boxes.map((b) => [b[1], b[3]]) as any,
          backgroundColor: BOX_FILL[si],
          borderColor: "#3a3a3a",
          borderWidth: 0.9,
          borderSkipped: false,
          categoryPercentage: 0.56,
          barPercentage: 0.9,
        })),
      },
      options: {
        responsive: false,
        animation: false,
        devicePixelRatio: 1,
        events: [],
        layout: { padding: { top: PT, right: PR, left: 0, bottom: 0 } },
        plugins: { legend: { display: false }, tooltip: { enabled: false } },
        scales: {
          x: {
            grid: { display: false, drawTicks: false },
            border: { display: true, color: "#8a8a8a", width: 1.5 },
            ticks: { color: "#111", font: tickFont, padding: 9, autoSkip: false, maxRotation: 0 },
            afterFit: (s: any) => { s.height = XH; },
          },
          y: {
            min: 0,
            max: 30,
            afterBuildTicks: (s: any) => { s.ticks = Y_TICKS.map((v) => ({ value: v })); },
            grid: { display: true, drawOnChartArea: false, drawTicks: true, tickLength: 4, color: "#8a8a8a", lineWidth: 1.2 },
            border: { display: true, color: "#8a8a8a", width: 1.5 },
            ticks: { color: "#111", font: tickFont, padding: 3 },
            afterFit: (s: any) => { s.width = YW; },
          },
        },
      },
      plugins: [makeBoxPlugin(def.series, def.out)],
    });
    return () => chart.destroy();
  }, [def]);

  return (
    <canvas
      ref={ref}
      width={width}
      height={height}
      style={{ position: "absolute", left: col.L - YW, top: row.T - PT, width, height }}
    />
  );
}

const TITLE_X = [237, 634, 1037];
const SCEN_X = [238, 636, 1037];
const YTITLE_Y = [114, 310, 510, 707];
const DEPTH_Y = [64.5, 262, 461, 658];
const LEGEND_SQ_X = [791, 941, 998, 1065, 1131];
const LEGEND_TX_X = [812, 965, 1023, 1090, 1159];

export default function App() {
  return (
    <div
      style={{
        position: "fixed",
        left: 0,
        top: 0,
        width: 1218,
        height: 868,
        overflow: "hidden",
        background: "#fff",
        fontFamily: FONT,
        color: "#111",
      }}
    >
      {PANELS.map((p, i) => (
        <Panel key={i} def={p} />
      ))}
      {SOILS.map((s, i) => (
        <div
          key={s}
          style={{ position: "absolute", left: TITLE_X[i], top: 24, transform: "translate(-50%,-50%)", fontWeight: "bold", fontSize: 20, whiteSpace: "nowrap" }}
        >
          {s}
        </div>
      ))}
      {SOILS.map((s, i) => (
        <div
          key={"sc" + s}
          style={{ position: "absolute", left: SCEN_X[i], top: 834, transform: "translate(-50%,-50%)", fontWeight: "bold", fontSize: 15, whiteSpace: "nowrap" }}
        >
          Scenarios
        </div>
      ))}
      {DEPTHS.map((d, i) => (
        <div
          key={d}
          style={{ position: "absolute", left: d.length > 5 ? 86 : 93, top: DEPTH_Y[i], transform: "translateY(-50%)", fontWeight: "bold", fontSize: 15.5, whiteSpace: "nowrap" }}
        >
          {d}
        </div>
      ))}
      {YTITLE_Y.map((y, i) => (
        <div
          key={"yt" + i}
          style={{ position: "absolute", left: 22, top: y, transform: "translate(-50%,-50%) rotate(-90deg)", fontWeight: "bold", fontSize: 16, whiteSpace: "nowrap", lineHeight: 1 }}
        >
          EC<sub style={{ fontSize: 10, verticalAlign: -3 }}>sw</sub> (dS m<sup style={{ fontSize: 10, verticalAlign: 6 }}>-1</sup>)
        </div>
      ))}
      {SERIES_NAMES.map((n, i) => (
        <React.Fragment key={n}>
          <div
            style={{ position: "absolute", left: LEGEND_SQ_X[i], top: 853, width: 13, height: 13, background: LEGEND_FILL[i], border: "1px solid #555" }}
          />
          <div
            style={{ position: "absolute", left: LEGEND_TX_X[i], top: 860, transform: "translateY(-50%)", fontWeight: "bold", fontSize: 14.5, whiteSpace: "nowrap" }}
          >
            {n}
          </div>
        </React.Fragment>
      ))}
    </div>
  );
}
